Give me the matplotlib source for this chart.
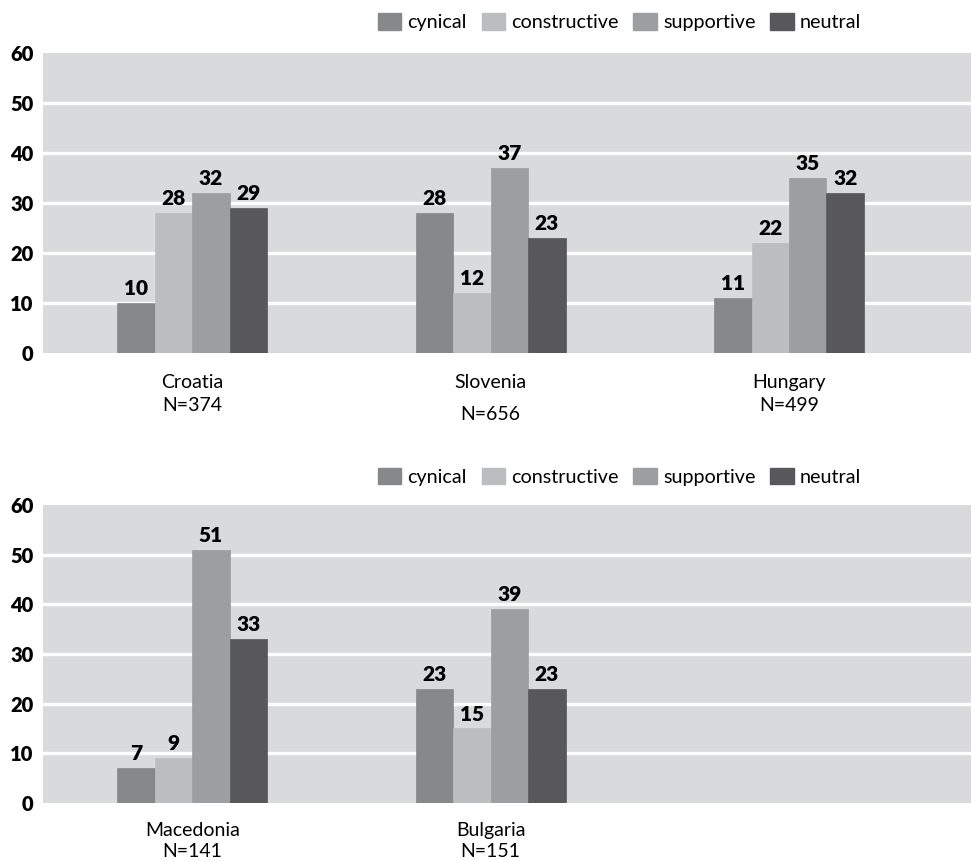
import matplotlib
matplotlib.use("Agg")
import matplotlib.pyplot as plt
from matplotlib.patches import Patch
import numpy as np

plt.rcParams['font.family'] = ['Lato', 'DejaVu Sans']

series = ['cynical', 'constructive', 'supportive', 'neutral']
colors = ['#87888a', '#bcbdbf', '#9d9ea0', '#58585a']

top_countries = ['Croatia', 'Slovenia', 'Hungary']
top_n = ['N=374', 'N=656', 'N=499']
top_values = [
    [10, 28, 32, 29],
    [28, 12, 37, 23],
    [11, 22, 35, 32],
]

bottom_countries = ['Macedonia', 'Bulgaria']
bottom_n = ['N=141', 'N=151']
bottom_values = [
    [7, 9, 51, 33],
    [23, 15, 39, 23],
]

BG = '#d9dadc'
bar_w = 0.1256


def draw_panel(ax, countries, ns, values, name_y, n_y):
    ax.set_facecolor(BG)
    for spine in ax.spines.values():
        spine.set_visible(False)
    ax.set_xlim(-0.5, 2.61)
    ax.set_ylim(0, 60)
    for y in range(10, 60, 10):
        ax.axhline(y, color='white', lw=2.4, zorder=1)
    vals = np.array(values)
    x = np.arange(len(countries))
    for j, name in enumerate(series):
        xs = x + (j - 1.5) * bar_w
        ax.bar(xs, vals[:, j], width=bar_w, color=colors[j], zorder=2,
               edgecolor=colors[j], linewidth=0.5)
        for xi, v in zip(xs, vals[:, j]):
            ax.annotate(str(v), (xi, v), xytext=(0, 3.5), textcoords='offset points',
                        ha='center', va='bottom', fontsize=15, fontweight='heavy',
                        color='black')
    ax.set_xticks([])
    ax.set_yticks(range(0, 61, 10))
    ax.tick_params(axis='y', length=0, pad=7, labelsize=14.5, labelcolor='black')
    for lab in ax.get_yticklabels():
        lab.set_fontweight('heavy')
    for xi, c, n, ny in zip(x, countries, ns, n_y):
        ax.annotate(c, (xi, 0), xytext=(0, name_y), textcoords='offset points',
                    ha='center', va='top', fontsize=14, xycoords=('data', 'axes fraction'))
        ax.annotate(n, (xi, 0), xytext=(0, ny), textcoords='offset points',
                    ha='center', va='top', fontsize=14, xycoords=('data', 'axes fraction'))


fig = plt.figure(figsize=(9.71, 8.61), dpi=100)
ax1 = fig.add_axes([0.0443, 0.590, 0.9557, 0.3484])
ax2 = fig.add_axes([0.0443, 0.0674, 0.9557, 0.3461])

draw_panel(ax1, top_countries, top_n, top_values, -15, [-32, -38, -32])
draw_panel(ax2, bottom_countries, bottom_n, bottom_values, -14, [-29, -29])

handles = [Patch(facecolor=c, edgecolor=c) for c in colors]
for ly in [0.974, 0.446]:
    fig.legend(handles, series, loc='center', bbox_to_anchor=(0.638, ly), ncol=4,
               frameon=False, fontsize=14.2, handlelength=1.2, handleheight=0.9,
               handletextpad=0.3, columnspacing=0.75, borderpad=0)

fig.savefig('out.png', dpi=100, facecolor='white')
